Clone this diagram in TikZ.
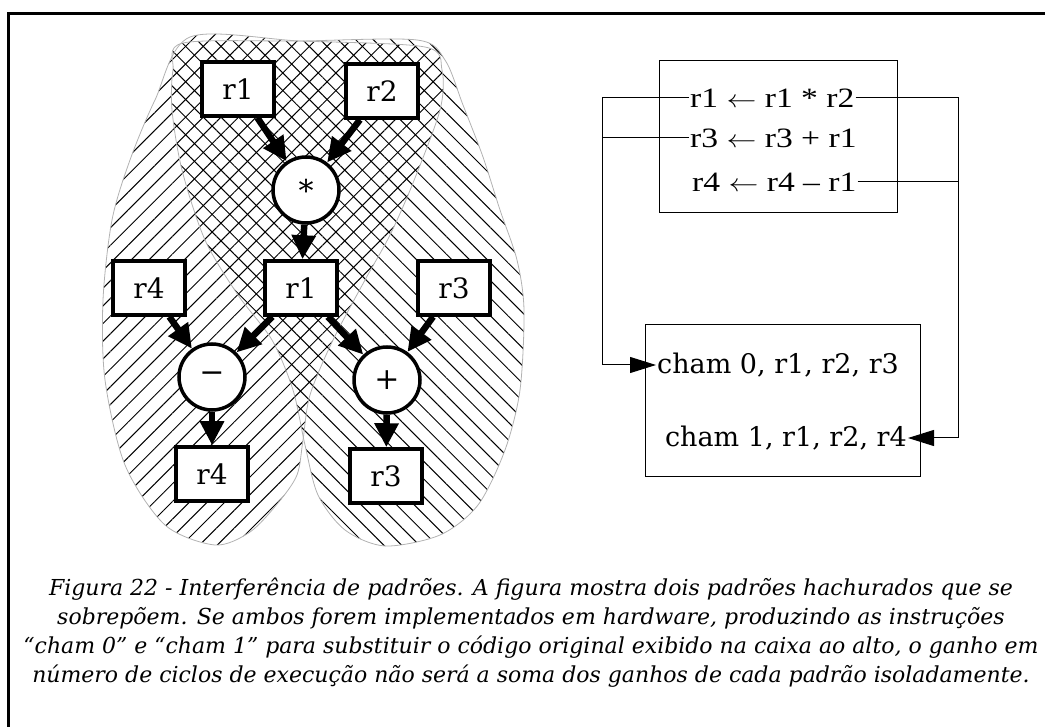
\documentclass[tikz,border=0pt]{standalone}
\usepackage{fontspec}
\usetikzlibrary{arrows.meta,patterns.meta}
\newfontfamily\boxfont{DejaVu Serif}
\newfontfamily\codefont[FakeStretch=1.2]{Liberation Serif}
\newfontfamily\capfont{DejaVu Serif}
\newcommand\larrow{\scalebox{1.2}[1]{$\leftarrow$}}

\begin{document}
\begin{tikzpicture}[x=1pt,y=-1pt,
    reg/.style={draw, line width=3.5pt, fill=white, minimum width=72pt, minimum height=54pt, inner sep=0pt, font=\boxfont\fontsize{28}{30}\selectfont},
    op/.style={draw, circle, line width=3.5pt, fill=white, minimum size=66pt, inner sep=0pt, font=\boxfont\fontsize{30}{30}\selectfont},
    flow/.style={line width=6.5pt, -{Triangle[length=24pt,width=23pt]}},
    hatchA/.style={pattern={Lines[angle=45,distance=12.5pt,line width=1pt]}},
    hatchB/.style={pattern={Lines[angle=-45,distance=12.5pt,line width=1pt]}},
    hullline/.style={draw=black!30, line width=0.8pt},
    codebox/.style={draw, line width=0.9pt, inner sep=0pt},
    instr/.style={inner sep=1pt, font=\codefont\fontsize{28}{30}\selectfont},
    cham/.style={inner sep=1pt, font=\boxfont\fontsize{27}{30}\selectfont},
    wire/.style={line width=1pt},
    ]
    \useasboundingbox (0,0) rectangle (1045,727);

    % frame
    \draw[line width=3.3pt] (8.5,727) -- (8.5,13.5) -- (1045,13.5);

    % the two hatched patterns
    \path[hatchA] plot[smooth cycle] coordinates {(190,37) (300,41) (425,47) (442,70) (440,110) (413,183) (390,235) (365,280) (333,340) (310,395) (303,440) (297,475) (278,503) (250,532) (215,545) (165,525) (125,465) (105,380) (103,300) (112,220) (130,160) (155,100)};
    \path[hatchB] plot[smooth cycle] coordinates {(183,43) (300,41) (417,40) (445,60) (463,105) (483,157) (500,210) (517,260) (524,310) (520,390) (505,450) (478,505) (440,535) (385,546) (345,530) (318,495) (305,445) (293,390) (272,340) (238,295) (205,240) (182,170) (172,110) (173,70)};
    \draw[hullline] plot[smooth cycle] coordinates {(190,37) (300,41) (425,47) (442,70) (440,110) (413,183) (390,235) (365,280) (333,340) (310,395) (303,440) (297,475) (278,503) (250,532) (215,545) (165,525) (125,465) (105,380) (103,300) (112,220) (130,160) (155,100)};
    \draw[hullline] plot[smooth cycle] coordinates {(183,43) (300,41) (417,40) (445,60) (463,105) (483,157) (500,210) (517,260) (524,310) (520,390) (505,450) (478,505) (440,535) (385,546) (345,530) (318,495) (305,445) (293,390) (272,340) (238,295) (205,240) (182,170) (172,110) (173,70)};

    % data flow graph
    \node[reg] at (238,89) (r1a) {r1};
    \node[reg] at (382,91) (r2a) {r2};
    \node[op] at (306,190) (mul) {*};
    \node[reg] at (301,288) (r1b) {r1};
    \node[reg] at (149,288) (r4a) {r4};
    \node[reg] at (454,288) (r3a) {r3};
    \node[op] at (212,377) (sub) {−};
    \node[op] at (387,380) (add) {+};
    \node[reg] at (212,474) (r4b) {r4};
    \node[reg] at (386,476) (r3b) {r3};

    \draw[flow] (r1a) -- (mul);
    \draw[flow] (r2a) -- (mul);
    \draw[flow] (mul) -- (r1b);
    \draw[flow] (r4a) -- (sub);
    \draw[flow] (r1b) -- (sub);
    \draw[flow] (r1b) -- (add);
    \draw[flow] (r3a) -- (add);
    \draw[flow] (sub) -- (r4b);
    \draw[flow] (add) -- (r3b);

    % original code and the two new instructions
    \node[codebox, minimum width=238pt, minimum height=152pt] at (778,136) (prog) {};
    \node[instr, anchor=west] at (689,98) (l1) {r1 \larrow{} r1 * r2};
    \node[instr, anchor=west] at (689,138) (l2) {r3 \larrow{} r3 + r1};
    \node[instr, anchor=west] at (691,182) (l3) {r4 \larrow{} r4 – r1};

    \node[codebox, minimum width=275pt, minimum height=152pt] at (782.5,400) (new) {};
    \node[cham, anchor=west] at (656,365) (c0) {cham 0, r1, r2, r3};
    \node[cham, anchor=east] at (908,438) (c1) {cham 1, r1, r2, r4};

    \coordinate (lx) at (602,0);
    \coordinate (rx) at (958,0);
    \draw[wire, -{Triangle[length=26pt,width=16pt]}] (l1.west) -- (l1.west -| lx) |- (c0.west);
    \draw[wire] (l2.west) -- (l2.west -| lx);
    \draw[wire, -{Triangle[length=26pt,width=16pt]}] (l1.east) -- (l1.east -| rx) |- (c1.east);
    \draw[wire] (l3.east) -- (l3.east -| rx);

    % caption
    \node[align=center, font=\capfont\itshape\fontsize{22}{29}\selectfont] at (531,633) (cap) {Figura 22 - Interferência de padrões. A figura mostra dois padrões hachurados que se\\
    sobrepõem. Se ambos forem implementados em hardware, produzindo as instruções\\
    “cham 0” e “cham 1” para substituir o código original exibido na caixa ao alto, o ganho em\\
    número de ciclos de execução não será a soma dos ganhos de cada padrão isoladamente.};
\end{tikzpicture}
\end{document}
